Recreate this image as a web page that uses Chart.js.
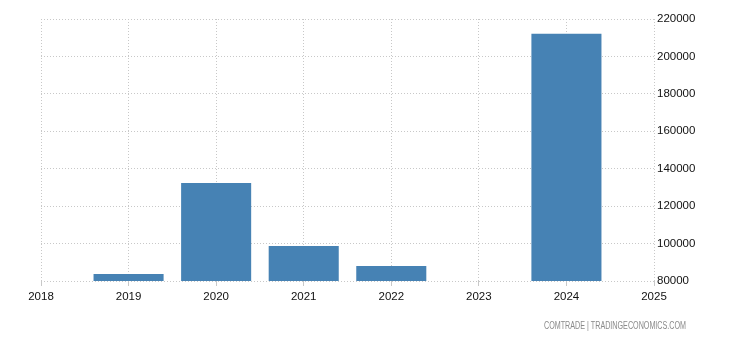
<!DOCTYPE html>
<html>
<head>
<meta charset="utf-8">
<script src="https://cdn.jsdelivr.net/npm/chart.js@4.4.1/dist/chart.umd.min.js"></script>
<style>
html,body{margin:0;padding:0;background:#fff;}
#wrap{position:relative;width:730px;height:340px;}
</style>
</head>
<body>
<div id="wrap"><canvas id="c" width="730" height="340"></canvas></div>
<script>
const years = ['2018','2019','2020','2021','2022','2023','2024','2025'];
const values = [null, 83700, 132400, 98700, 88000, null, 212100, null];
const yTicks = [80000, 100000, 120000, 140000, 160000, 180000, 200000, 220000];
const sourceText = 'COMTRADE | TRADINGECONOMICS.COM';

const sourcePlugin = {
  id: 'source',
  afterDraw(chart) {
    const ctx = chart.ctx;
    ctx.save();
    ctx.font = '10px "Liberation Sans", Arial, sans-serif';
    ctx.fillStyle = '#8a8a8a';
    ctx.textAlign = 'right';
    ctx.textBaseline = 'middle';
    ctx.fillText(sourceText, 686, 326, 142);
    ctx.restore();
  }
};

const gridColor = '#c8c8c8';
new Chart(document.getElementById('c'), {
  type: 'bar',
  data: {
    labels: years,
    datasets: [{
      data: values,
      backgroundColor: '#4682b4',
      borderWidth: 0,
      barPercentage: 0.8,
      categoryPercentage: 1.0
    }]
  },
  options: {
    responsive: false,
    animation: false,
    devicePixelRatio: 1,
    layout: { padding: { left: 41, top: 19, right: 0, bottom: 29 } },
    plugins: { legend: { display: false }, tooltip: { enabled: false } },
    scales: {
      x: {
        offset: false,
        grid: {
          offset: false,
          color: gridColor,
          tickColor: gridColor,
          tickLength: 5,
          lineWidth: 1
        },
        border: { display: false, dash: [1, 2] },
        ticks: {
          color: '#111',
          font: { family: '"Liberation Sans", Arial, sans-serif', size: 11.5 },
          padding: 4,
          maxRotation: 0,
          autoSkip: false
        },
        afterFit(s) { s.height = 30; }
      },
      y: {
        position: 'right',
        min: 80000,
        max: 220000,
        afterBuildTicks(s) { s.ticks = yTicks.map(v => ({ value: v })); },
        grid: { color: gridColor, drawTicks: false, lineWidth: 1 },
        border: { display: false, dash: [1, 2] },
        ticks: {
          color: '#111',
          font: { family: '"Liberation Sans", Arial, sans-serif', size: 11.5 },
          padding: 3,
          callback: v => String(v)
        },
        afterFit(s) { s.width = 76; }
      }
    }
  },
  plugins: [sourcePlugin]
});
</script>
</body>
</html>
